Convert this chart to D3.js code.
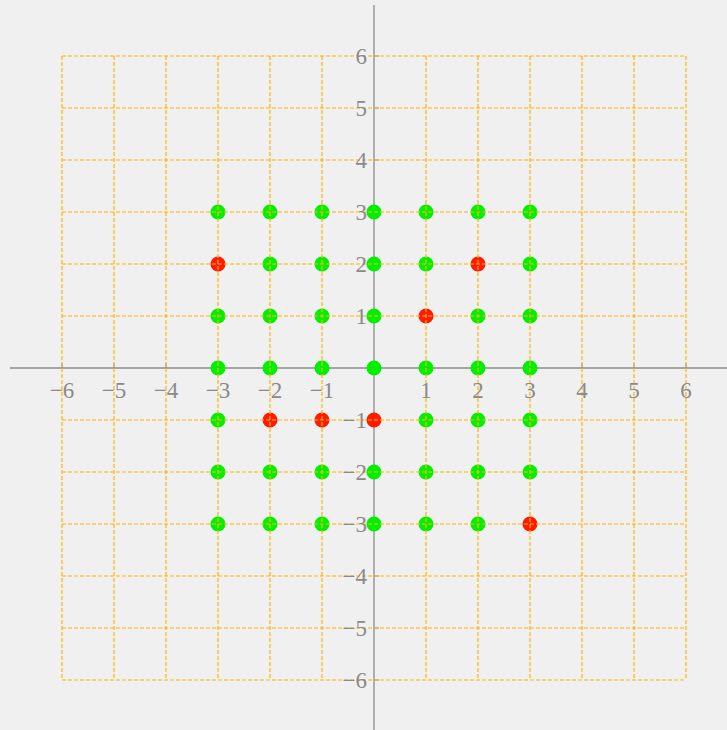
<!DOCTYPE html>
<html>
<head>
<meta charset="utf-8">
<script src="https://cdn.jsdelivr.net/npm/d3@7"></script>
<style>
  html, body { margin: 0; padding: 0; background: #f0f0f0; }
  svg { display: block; }
</style>
</head>
<body>
<svg id="chart" width="727" height="730"></svg>
<script>
// Lattice points on [-3,3] x [-3,3]; the highlighted ones are listed separately
const latticeRange = [-3, -2, -1, 0, 1, 2, 3];
const redPoints = [[-3, 2], [2, 2], [1, 1], [-2, -1], [-1, -1], [0, -1], [3, -3]];
const xTicks = [-6, -5, -4, -3, -2, -1, 1, 2, 3, 4, 5, 6];
const yTicks = [-6, -5, -4, -3, -2, -1, 1, 2, 3, 4, 5, 6];
const gridValues = [-6, -5, -4, -3, -2, -1, 0, 1, 2, 3, 4, 5, 6];

const svg = d3.select("#chart");
const W = 727, H = 730;

const x = d3.scaleLinear().domain([-6, 6]).range([62, 686]);
const y = d3.scaleLinear().domain([-6, 6]).range([680, 56]);

const isRed = (px, py) => redPoints.some(p => p[0] === px && p[1] === py);
const points = [];
latticeRange.forEach(px => latticeRange.forEach(py => points.push({ px, py, red: isRed(px, py) })));

const fmt = v => (v < 0 ? "\u2212" + Math.abs(v) : String(v));

// axes (drawn under the points)
const axisColor = "#8c8c8c";
svg.append("line")
  .attr("x1", 10).attr("x2", W).attr("y1", y(0)).attr("y2", y(0))
  .attr("stroke", axisColor).attr("stroke-width", 1.3);
svg.append("line")
  .attr("x1", x(0)).attr("x2", x(0)).attr("y1", 5).attr("y2", H)
  .attr("stroke", axisColor).attr("stroke-width", 1.3);

// tick marks
svg.append("g").selectAll("line").data(xTicks).join("line")
  .attr("x1", d => x(d)).attr("x2", d => x(d))
  .attr("y1", y(0)).attr("y2", y(0) - 5)
  .attr("stroke", axisColor).attr("stroke-width", 1);
svg.append("g").selectAll("line").data(yTicks).join("line")
  .attr("x1", x(0)).attr("x2", x(0) + 5)
  .attr("y1", d => y(d)).attr("y2", d => y(d))
  .attr("stroke", axisColor).attr("stroke-width", 1);

// points
svg.append("g").selectAll("circle").data(points).join("circle")
  .attr("cx", d => x(d.px)).attr("cy", d => y(d.py)).attr("r", 7.5)
  .attr("fill", d => d.red ? "#ff1a00" : "#00f000");

// dashed grid on top
const gridColor = "#ffb300";
const grid = svg.append("g")
  .attr("stroke", gridColor).attr("stroke-width", 1.2)
  .attr("stroke-dasharray", "4,2").attr("fill", "none");
grid.selectAll("line.v").data(gridValues.filter(v => v !== 0)).join("line").attr("class", "v")
  .attr("x1", d => x(d)).attr("x2", d => x(d)).attr("y1", y(6)).attr("y2", y(-6));
grid.selectAll("line.h").data(gridValues.filter(v => v !== 0)).join("line").attr("class", "h")
  .attr("x1", x(-6)).attr("x2", x(6)).attr("y1", d => y(d)).attr("y2", d => y(d));

// tick labels
const labelStyle = sel => sel
  .attr("font-family", "'Liberation Serif', 'DejaVu Serif', serif")
  .attr("font-size", 23).attr("fill", "#8a8a8a");

svg.append("g").selectAll("text").data(xTicks).join("text")
  .call(labelStyle)
  .attr("x", d => x(d)).attr("y", y(0) + 30)
  .attr("text-anchor", "middle")
  .text(fmt);

svg.append("g").selectAll("text").data(yTicks).join("text")
  .call(labelStyle)
  .attr("x", x(0) - 7).attr("y", d => y(d) + 8)
  .attr("text-anchor", "end")
  .text(fmt);
</script>
</body>
</html>
